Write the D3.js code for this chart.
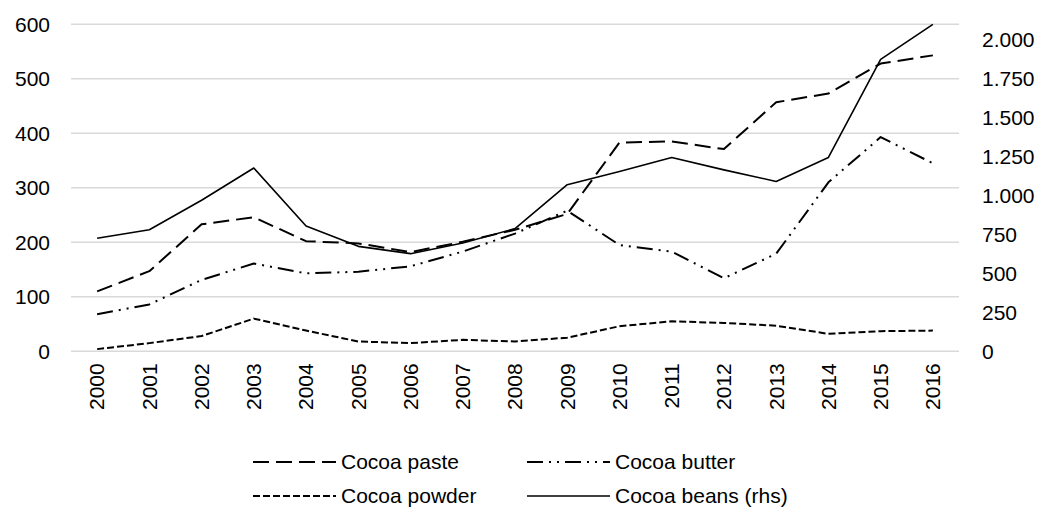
<!DOCTYPE html>
<html><head><meta charset="utf-8">
<script src="https://cdn.jsdelivr.net/npm/d3@7"></script>
<style>body{margin:0;background:#fff}svg{display:block}text{font-family:Arial,"Liberation Sans",sans-serif;fill:#000}</style>
</head><body><svg id="c" width="1042" height="513"></svg>
<script>
const years = ["2000","2001","2002","2003","2004","2005","2006","2007","2008","2009","2010","2011","2012","2013","2014","2015","2016"];
const cocoaPaste  = [110,147,233,246,202,198,182,201,223,252,383,385,371,457,473,528,543];
const cocoaButter = [68,86,131,161,143,146,156,183,216,258,195,183,134,179,310,393,345];
const cocoaPowder = [4,15,28,60,38,18,15,21,18,25,46,55,52,47,32,37,38];
const cocoaBeans  = [726,781,970,1177,805,674,627,695,788,1070,1155,1245,1165,1091,1245,1875,2100];
const leftTicks  = [0,100,200,300,400,500,600];
const rightTicks = [0,250,500,750,1000,1250,1500,1750,2000];
const seriesNames = ["Cocoa paste","Cocoa butter","Cocoa powder","Cocoa beans (rhs)"];

const svg = d3.select("#c");
const L=71, R=959, T=24.3, B=351.3;
const x = d3.scaleBand().domain(years).range([L,R]);
const yL = d3.scaleLinear().domain([0,600]).range([B,T]);
const yR = d3.scaleLinear().domain([0,2100]).range([B,T]);
const fs = 21;

// gridlines
svg.append("g").selectAll("line").data(leftTicks).join("line")
  .attr("x1",L).attr("x2",R).attr("y1",d=>yL(d)).attr("y2",d=>yL(d))
  .attr("stroke","#d9d9d9").attr("stroke-width",1.5);

// left axis
const gl = svg.append("g").attr("transform",`translate(${L},0)`)
  .call(d3.axisLeft(yL).tickValues(leftTicks).tickSize(0).tickPadding(21).tickFormat(d3.format("d")));
gl.select(".domain").remove();
gl.selectAll("text").style("font-size",fs+"px").attr("fill","#000");

// right axis
const fmtR = d => d3.format(",")(d).replace(/,/g,".");
const gr = svg.append("g").attr("transform",`translate(${R},0)`)
  .call(d3.axisRight(yR).tickValues(rightTicks).tickSize(0).tickPadding(23).tickFormat(fmtR));
gr.select(".domain").remove();
gr.selectAll("text").style("font-size",fs+"px").attr("fill","#000");

// bottom axis
const gb = svg.append("g").attr("transform",`translate(0,${B})`)
  .call(d3.axisBottom(x).tickSize(0).tickPadding(0));
gb.select(".domain").remove();
gb.selectAll("text").style("font-size",fs+"px").attr("fill","#000")
  .attr("text-anchor","end").attr("dy","0.35em")
  .attr("transform","translate(0,12) rotate(-90)").attr("x",0).attr("y",0);

const styles = [
  {data:cocoaPaste, y:yL, dash:"16,7", w:2},
  {data:cocoaButter, y:yL, dash:"16,6,2,6,2,6", w:2},
  {data:cocoaPowder, y:yL, dash:"7,3", w:2},
  {data:cocoaBeans, y:yR, dash:null, w:1.6}
];
const cx = d => x(d)+x.bandwidth()/2;
styles.forEach(s=>{
  const line = d3.line().x((d,i)=>cx(years[i])).y(d=>s.y(d));
  svg.append("path").datum(s.data).attr("d",line).attr("fill","none")
    .attr("stroke","#000").attr("stroke-width",s.w)
    .attr("stroke-dasharray",s.dash).attr("stroke-linejoin","round");
});

// legend
const legPos = [[253,462],[527,462],[253,496],[527,496]];
const lg = svg.append("g");
seriesNames.forEach((n,i)=>{
  const [lx,ly] = legPos[i];
  lg.append("line").attr("x1",lx).attr("x2",lx+83).attr("y1",ly).attr("y2",ly)
    .attr("stroke","#000").attr("stroke-width",styles[i].w).attr("stroke-dasharray",styles[i].dash);
  lg.append("text").attr("x",lx+88).attr("y",ly).attr("dy","0.35em").style("font-size",fs+"px").text(n);
});
</script></body></html>
